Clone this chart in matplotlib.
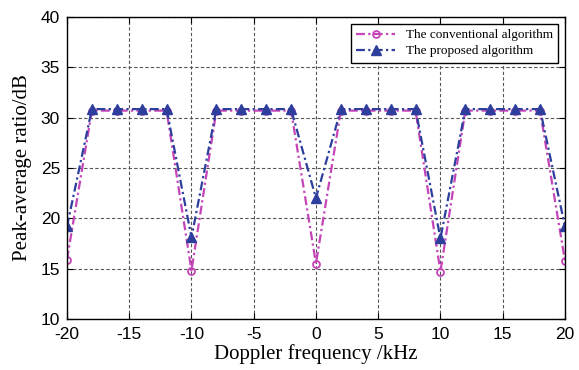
import numpy as np
import matplotlib.pyplot as plt

plt.rcParams['axes.unicode_minus'] = False

# Doppler frequency (kHz)
freq = [-20, -18, -16, -14, -12, -10, -8, -6, -4, -2, 0, 2, 4, 6, 8, 10, 12, 14, 16, 18, 20]

# peak-average ratio (dB)
conventional = [15.9, 30.7, 30.7, 30.7, 30.7, 14.8, 30.7, 30.7, 30.7, 30.7, 15.5,
                30.7, 30.7, 30.7, 30.7, 14.7, 30.7, 30.7, 30.7, 30.7, 15.8]
proposed = [19.2, 30.85, 30.85, 30.85, 30.85, 18.1, 30.85, 30.85, 30.85, 30.85, 22.0,
            30.85, 30.85, 30.85, 30.85, 18.0, 30.85, 30.85, 30.85, 30.85, 19.2]

xticks = [-20, -15, -10, -5, 0, 5, 10, 15, 20]
yticks = [10, 15, 20, 25, 30, 35, 40]

fig = plt.figure(figsize=(5.79, 3.70), dpi=100)
ax = fig.add_axes([0.1157, 0.138, 0.860, 0.816])

ax.plot(freq, conventional, linestyle=(0, (4, 1.5, 1, 1.5)), color='#C445B8', lw=1.6,
        marker='o', markersize=5, markerfacecolor='none', markeredgewidth=1.3,
        label='The conventional algorithm')
ax.plot(freq, proposed, linestyle=(0, (4, 1.5, 1, 1.5)), color='#2D3E9C', lw=1.6,
        marker='^', markersize=7, markerfacecolor='#2D3E9C',
        label='The proposed algorithm')

ax.set_xlim(-20, 20)
ax.set_ylim(10, 40)
ax.set_xticks(xticks)
ax.set_yticks(yticks)
ax.grid(True, linestyle=(0, (3, 2)), color='#555555', lw=0.8)
ax.tick_params(direction='in', top=True, right=True, length=4, labelsize=12.5)
ax.tick_params(axis='x', pad=6)
ax.tick_params(axis='y', pad=5)
for lab in ax.get_xticklabels() + ax.get_yticklabels():
    lab.set_family('Liberation Sans')
for s in ax.spines.values():
    s.set_linewidth(1.0)

ax.set_xlabel('Doppler frequency /kHz', family='Liberation Serif', fontsize=15, labelpad=1)
ax.set_ylabel('Peak-average ratio/dB', family='Liberation Serif', fontsize=15, labelpad=6)

leg = ax.legend(loc='upper right', prop={'family': 'Liberation Serif', 'size': 9.5},
                fancybox=False, edgecolor='black', framealpha=1,
                borderpad=0.4, labelspacing=0.3, handlelength=3)
leg.get_frame().set_linewidth(1.0)

fig.savefig('out.png', dpi=100)
